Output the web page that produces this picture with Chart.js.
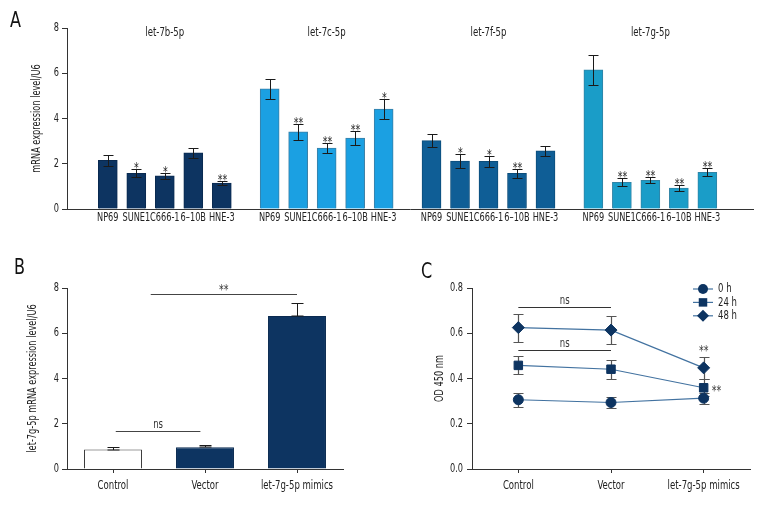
<!DOCTYPE html>
<html lang="en">
<head>
<meta charset="UTF-8">
<title>let-7 family expression</title>
<script src="https://cdn.jsdelivr.net/npm/chart.js"></script>
<style>
  body { margin: 0; background: #fff; font-family: 'DejaVu Sans Condensed', sans-serif; }
  #wrap { position: relative; width: 780px; height: 516px; }
  canvas { position: absolute; }
  .tag { position: absolute; font-size: 21px; line-height: 1; color: #111; transform: scaleX(0.85); transform-origin: left top; }
</style>
</head>
<body>
<div id="wrap">
  <canvas id="chartA" width="780" height="240" style="left:0;top:0"></canvas>
  <canvas id="chartB" width="390" height="266" style="left:0;top:250px"></canvas>
  <canvas id="chartC" width="390" height="266" style="left:390px;top:250px"></canvas>
  <div class="tag" style="left:10px;top:10px">A</div>
  <div class="tag" style="left:14px;top:257px">B</div>
  <div class="tag" style="left:421px;top:261px">C</div>
</div>
<script>
// ---- panel A data ----
const cellLines = ['NP69', 'SUNE1', 'C666-1', '6–10B', 'HNE-3'];
const mirNames = ['let-7b-5p', 'let-7c-5p', 'let-7f-5p', 'let-7g-5p'];
const let7b = [2.15, 1.58, 1.47, 2.48, 1.15];
const let7bErr = [0.23, 0.18, 0.13, 0.23, 0.09];
const let7bSig = ['', '*', '*', '', '**'];
const let7c = [5.31, 3.41, 2.69, 3.14, 4.42];
const let7cErr = [0.44, 0.36, 0.22, 0.30, 0.43];
const let7cSig = ['', '**', '**', '**', '*'];
const let7f = [3.02, 2.12, 2.11, 1.58, 2.57];
const let7fErr = [0.28, 0.30, 0.24, 0.20, 0.23];
const let7fSig = ['', '*', '*', '**', ''];
const let7g = [6.15, 1.18, 1.27, 0.92, 1.62];
const let7gErr = [0.66, 0.18, 0.13, 0.13, 0.18];
const let7gSig = ['', '**', '**', '**', '**'];

// ---- panel B data ----
const groupsB = ['Control', 'Vector', 'let-7g-5p mimics'];
const valuesB = [0.86, 0.96, 6.76];
const errorsB = [0.10, 0.10, 0.56];

// ---- panel C data ----
const timeLabels = ['0 h', '24 h', '48 h'];
const od0h = [0.306, 0.294, 0.313];
const od0hErr = [0.032, 0.026, 0.025];
const od24h = [0.458, 0.441, 0.359];
const od24hErr = [0.040, 0.041, 0.037];
const od48h = [0.625, 0.614, 0.447];
const od48hErr = [0.062, 0.063, 0.047];

const FONT = "'DejaVu Sans Condensed', sans-serif";
const NAVY = '#0d3461';
const AXIS = '#333';
Chart.defaults.font.family = FONT;
Chart.defaults.font.size = 12;
Chart.defaults.color = '#222';

// the figure uses a condensed face; squeeze every label horizontally around its anchor
function narrowText(id, k) {
  const canvas = document.getElementById(id);
  const ctx = canvas.getContext('2d');
  const fill = ctx.fillText.bind(ctx);
  ctx.fillText = (text, x, y) => {
    ctx.save();
    ctx.translate(x, y);
    ctx.scale(k, 1);
    fill(text, 0, 0);
    ctx.restore();
  };
  return canvas;
}
const NARROW = 0.76;

function errBar(ctx, px, top, bot, cap) {
  ctx.beginPath();
  ctx.moveTo(px, top); ctx.lineTo(px, bot);
  ctx.moveTo(px - cap, top); ctx.lineTo(px + cap, top);
  if (bot !== null) { ctx.moveTo(px - cap, bot); ctx.lineTo(px + cap, bot); }
  ctx.stroke();
}

// ---------- A ----------
const groupColors = ['#0d3461', '#1ba0e2', '#0f5e96', '#1a9dc8'];
const groupBorders = ['#0a2a50', '#3a7fa6', '#0c4d7a', '#2f84a6'];
const groupVals = [let7b, let7c, let7f, let7g];
const groupErrs = [let7bErr, let7cErr, let7fErr, let7gErr];
const groupSigs = [let7bSig, let7cSig, let7fSig, let7gSig];
const GROUP_START = 0.83, GROUP_STEP = 5.68;
const xPos = (g, i) => GROUP_START + g * GROUP_STEP + i;

const barPoints = [], barColors = [], barBorders = [], barErrs = [], barSigs = [], tickPos = [], tickText = [];
groupVals.forEach((vals, g) => vals.forEach((v, i) => {
  barPoints.push({ x: xPos(g, i), y: v });
  barColors.push(groupColors[g]);
  barBorders.push(groupBorders[g]);
  barErrs.push(groupErrs[g][i]);
  barSigs.push(groupSigs[g][i]);
  tickPos.push(xPos(g, i));
  tickText.push(cellLines[i]);
}));

const annotA = {
  id: 'annotA',
  afterDatasetsDraw(chart) {
    const { ctx, scales: { x, y } } = chart;
    ctx.save();
    ctx.strokeStyle = '#1a1a1a';
    ctx.lineWidth = 1;
    ctx.fillStyle = '#222';
    ctx.textAlign = 'center';
    barPoints.forEach((p, k) => {
      const px = Math.round(x.getPixelForValue(p.x)) + 0.5;
      const top = Math.round(y.getPixelForValue(p.y + barErrs[k])) + 0.5;
      const bot = Math.round(y.getPixelForValue(p.y - barErrs[k])) + 0.5;
      errBar(ctx, px, top, bot, 5);
      if (barSigs[k]) {
        ctx.font = '14px ' + FONT;
        ctx.textBaseline = 'alphabetic';
        ctx.fillText(barSigs[k], px, top + 2);
      }
    });
    ctx.font = '12.5px ' + FONT;
    ctx.textBaseline = 'middle';
    mirNames.forEach((name, g) => ctx.fillText(name, x.getPixelForValue(xPos(g, 2)), y.top + 5));
    ctx.restore();
  }
};

new Chart(narrowText('chartA', NARROW), {
  type: 'bar',
  data: { datasets: [{ data: barPoints, backgroundColor: barColors, borderColor: barBorders, borderWidth: 1, barThickness: 19 }] },
  options: {
    responsive: false, animation: false, devicePixelRatio: 1,
    layout: { padding: { left: 0, top: 28, right: 27, bottom: 0 } },
    plugins: { legend: { display: false }, tooltip: { enabled: false } },
    scales: {
      x: {
        type: 'linear', min: 0, max: 22.87,
        afterBuildTicks: s => { s.ticks = tickPos.map(v => ({ value: v })); },
        afterFit: s => { s.height = 31; },
        ticks: { autoSkip: false, maxRotation: 0, padding: 2, callback: (v, i) => tickText[i] },
        grid: { display: false, drawTicks: false },
        border: { display: true, color: AXIS }
      },
      y: {
        min: 0, max: 8,
        afterFit: s => { s.width = 67; },
        ticks: { stepSize: 2, padding: 3 },
        title: { display: true, text: 'mRNA expression level/U6', padding: { top: 30, bottom: 0 } },
        grid: { drawOnChartArea: false, drawTicks: true, tickLength: 5, color: AXIS },
        border: { color: AXIS }
      }
    }
  },
  plugins: [annotA]
});

// ---------- B ----------
const annotB = {
  id: 'annotB',
  afterDatasetsDraw(chart) {
    const { ctx, scales: { x, y } } = chart;
    ctx.save();
    ctx.strokeStyle = '#1a1a1a';
    ctx.lineWidth = 1;
    valuesB.forEach((v, i) => {
      const px = Math.round(x.getPixelForValue(i)) + 0.5;
      const top = Math.round(y.getPixelForValue(v + errorsB[i])) + 0.5;
      errBar(ctx, px, top, Math.round(y.getPixelForValue(v)), 6);
    });
    ctx.strokeStyle = '#444';
    ctx.fillStyle = '#333';
    ctx.textAlign = 'center';
    ctx.textBaseline = 'alphabetic';
    [[0.03, 0.95, 1.66, 'ns'], [0.41, 2.0, 7.72, '**']].forEach(([a, b, v, t]) => {
      const yy = Math.round(y.getPixelForValue(v)) + 0.5;
      const x1 = x.getPixelForValue(a), x2 = x.getPixelForValue(b);
      ctx.beginPath(); ctx.moveTo(x1, yy); ctx.lineTo(x2, yy); ctx.stroke();
      ctx.font = (t === 'ns' ? '12.5px ' : '14px ') + FONT;
      ctx.fillText(t, (x1 + x2) / 2, t === 'ns' ? yy - 4 : yy - 1);
    });
    ctx.restore();
  }
};

new Chart(narrowText('chartB', NARROW), {
  type: 'bar',
  data: {
    labels: groupsB,
    datasets: [{
      data: valuesB,
      backgroundColor: ['#ffffff', NAVY, NAVY],
      borderColor: ['#3a3a3a', '#0a2a50', '#0a2a50'],
      borderWidth: 1, barPercentage: 0.63, categoryPercentage: 1
    }]
  },
  options: {
    responsive: false, animation: false, devicePixelRatio: 1,
    layout: { padding: { left: 0, top: 38, right: 47, bottom: 0 } },
    plugins: { legend: { display: false }, tooltip: { enabled: false } },
    scales: {
      x: {
        afterFit: s => { s.height = 47; },
        ticks: { padding: 5, maxRotation: 0, autoSkip: false, font: { size: 12.5 } },
        grid: { offset: false, drawOnChartArea: false, drawTicks: true, tickLength: 4, color: AXIS },
        border: { color: AXIS }
      },
      y: {
        min: 0, max: 8,
        afterFit: s => { s.width = 67; },
        ticks: { stepSize: 2, padding: 3 },
        title: { display: true, text: 'let-7g-5p mRNA expression level/U6', padding: { top: 26, bottom: 0 } },
        grid: { drawOnChartArea: false, drawTicks: true, tickLength: 5, color: AXIS },
        border: { color: AXIS }
      }
    }
  },
  plugins: [annotB]
});

// ---------- C ----------
const LINE = '#4272a0';
const odSeries = [od0h, od24h, od48h];
const odErrs = [od0hErr, od24hErr, od48hErr];
const styles = ['circle', 'rect', 'rectRot'];
const radii = [5, 6, 6];

function marker(ctx, style, r, px, py) {
  ctx.beginPath();
  if (style === 'circle') ctx.arc(px, py, r, 0, Math.PI * 2);
  else if (style === 'rect') { const s = r * Math.SQRT1_2; ctx.rect(px - s, py - s, 2 * s, 2 * s); }
  else { ctx.moveTo(px, py - r); ctx.lineTo(px + r, py); ctx.lineTo(px, py + r); ctx.lineTo(px - r, py); ctx.closePath(); }
  ctx.fill();
}

const annotC = {
  id: 'annotC',
  beforeDatasetsDraw(chart) {
    const { ctx, scales: { x, y } } = chart;
    ctx.save();
    ctx.strokeStyle = '#555';
    ctx.lineWidth = 1.2;
    odSeries.forEach((vals, s) => vals.forEach((v, i) => {
      const px = Math.round(x.getPixelForValue(i)) + 0.5;
      errBar(ctx, px, Math.round(y.getPixelForValue(v + odErrs[s][i])) + 0.5, Math.round(y.getPixelForValue(v - odErrs[s][i])) + 0.5, 5);
    }));
    ctx.restore();
  },
  afterDatasetsDraw(chart) {
    const { ctx, scales: { x, y }, chartArea } = chart;
    ctx.save();
    ctx.strokeStyle = '#333';
    ctx.lineWidth = 1;
    ctx.fillStyle = '#333';
    ctx.textAlign = 'center';
    ctx.font = '12.5px ' + FONT;
    [0.716, 0.526].forEach(v => {
      const yy = Math.round(y.getPixelForValue(v)) + 0.5;
      const x1 = x.getPixelForValue(0), x2 = x.getPixelForValue(1);
      ctx.beginPath(); ctx.moveTo(x1, yy); ctx.lineTo(x2, yy); ctx.stroke();
      ctx.fillText('ns', (x1 + x2) / 2, yy - 4);
    });
    ctx.font = '14px ' + FONT;
    ctx.fillText('**', x.getPixelForValue(2), y.getPixelForValue(od48h[2] + od48hErr[2]) - 2);
    ctx.textAlign = 'left';
    ctx.fillText('**', x.getPixelForValue(2) + 8, y.getPixelForValue(od24h[2]) + 7);
    // legend
    const mx = chartArea.right - 47;
    ctx.font = '12.5px ' + FONT;
    ctx.textBaseline = 'middle';
    timeLabels.forEach((t, s) => {
      const my = chartArea.top + 1 + s * 13.4;
      ctx.strokeStyle = LINE;
      ctx.lineWidth = 1.2;
      ctx.beginPath(); ctx.moveTo(mx - 10, my); ctx.lineTo(mx + 10, my); ctx.stroke();
      ctx.fillStyle = NAVY;
      marker(ctx, styles[s], radii[s], mx, my);
      ctx.fillStyle = '#222';
      ctx.fillText(t, mx + 15, my);
    });
    ctx.restore();
  }
};

new Chart(narrowText('chartC', NARROW), {
  type: 'line',
  data: {
    labels: groupsB,
    datasets: odSeries.map((vals, s) => ({
      label: timeLabels[s], data: vals,
      borderColor: LINE, borderWidth: 1.2,
      pointStyle: styles[s], pointRadius: radii[s],
      pointBackgroundColor: NAVY, pointBorderColor: NAVY, pointBorderWidth: 1
    }))
  },
  options: {
    responsive: false, animation: false, devicePixelRatio: 1,
    layout: { padding: { left: 0, top: 38, right: 30, bottom: 0 } },
    plugins: { legend: { display: false }, tooltip: { enabled: false } },
    scales: {
      x: {
        offset: true,
        afterFit: s => { s.height = 47; },
        ticks: { padding: 5, maxRotation: 0, autoSkip: false, font: { size: 12.5 } },
        grid: { offset: false, drawOnChartArea: false, drawTicks: true, tickLength: 4, color: AXIS },
        border: { color: AXIS }
      },
      y: {
        min: 0, max: 0.8,
        afterFit: s => { s.width = 82; },
        ticks: { stepSize: 0.2, padding: 4, callback: v => v.toFixed(1) },
        title: { display: true, text: 'OD 450 nm', padding: { top: 43, bottom: 0 } },
        grid: { drawOnChartArea: false, drawTicks: true, tickLength: 5, color: AXIS },
        border: { color: AXIS }
      }
    }
  },
  plugins: [annotC]
});
</script>
</body>
</html>
